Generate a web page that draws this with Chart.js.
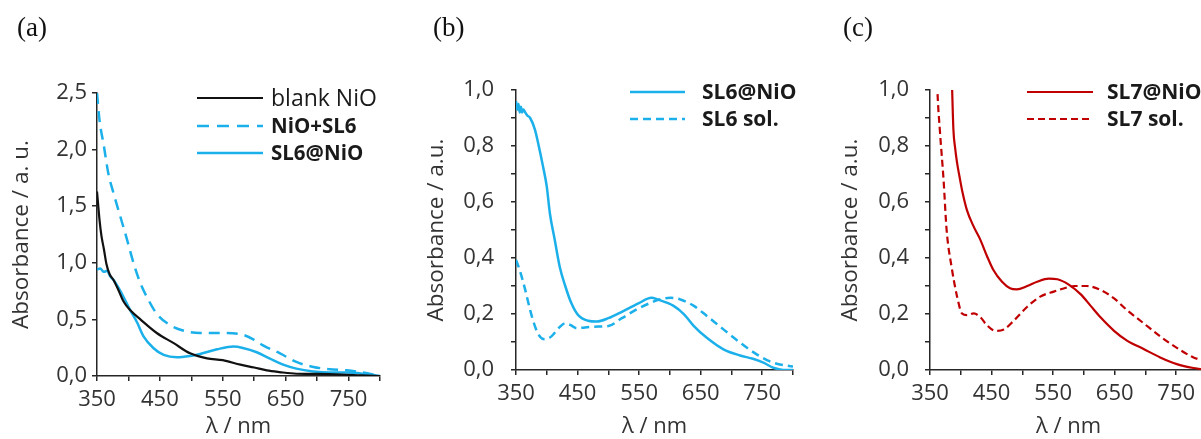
<!DOCTYPE html>
<html>
<head>
<meta charset="utf-8">
<script src="https://cdn.jsdelivr.net/npm/chart.js@4.4.1/dist/chart.umd.min.js"></script>
<style>
  html, body { margin: 0; padding: 0; background: #fff; overflow: hidden; width: 1201px; height: 439px; }
  .panel { position: absolute; top: 0; }
  .tag { position: absolute; z-index: 2; font-family: 'Liberation Serif', 'Times New Roman', serif; font-size: 27px; color: #111; }
</style>
</head>
<body>
<div class="tag" style="left:17px; top:12px">(a)</div>
<div class="tag" style="left:433px; top:12px">(b)</div>
<div class="tag" style="left:843px; top:12px">(c)</div>
<canvas id="chartA" class="panel" width="400" height="450" style="left:0px"></canvas>
<canvas id="chartB" class="panel" width="400" height="450" style="left:400px"></canvas>
<canvas id="chartC" class="panel" width="420" height="450" style="left:800px"></canvas>
<script>
// ---- spectra (wavelength in nm, absorbance in a.u.) ----

// (a) NiO films
const blankNiO_wl  = [350, 354, 357, 361, 365, 370, 376, 384, 392, 403, 419, 445, 472, 498, 525, 550, 578, 600, 620, 640, 667, 700, 740, 770, 800];
const blankNiO_abs = [1.63, 1.38, 1.24, 1.12, 0.99, 0.90, 0.85, 0.76, 0.66, 0.58, 0.50, 0.38, 0.29, 0.20, 0.156, 0.14, 0.10, 0.075, 0.05, 0.035, 0.02, 0.018, 0.013, 0.006, 0.0];

const nioSL6_wl  = [350, 354, 361, 368, 376, 387, 398, 408, 419, 432, 445, 466, 488, 514, 551, 578, 600, 614, 641, 667, 694, 720, 747, 773, 800];
const nioSL6_abs = [2.50, 2.26, 2.03, 1.79, 1.62, 1.41, 1.20, 1.00, 0.82, 0.67, 0.55, 0.45, 0.40, 0.38, 0.38, 0.37, 0.32, 0.27, 0.20, 0.124, 0.08, 0.06, 0.05, 0.03, 0.0];

const sl6NiOa_wl  = [350, 355, 361, 366, 371, 376, 382, 392, 403, 414, 424, 440, 456, 477, 498, 514, 541, 567, 582, 604, 625, 646, 667, 694, 720, 747, 773, 800];
const sl6NiOa_abs = [0.94, 0.95, 0.92, 0.93, 0.88, 0.85, 0.80, 0.70, 0.58, 0.47, 0.35, 0.245, 0.186, 0.165, 0.177, 0.195, 0.236, 0.26, 0.248, 0.21, 0.153, 0.10, 0.065, 0.04, 0.03, 0.03, 0.02, 0.0];

// (b) SL6 on NiO vs. solution
const sl6NiO_wl  = [350, 352, 354, 356, 358, 360, 362, 365, 368, 373, 381, 386, 394, 400, 405, 413, 421, 430, 440, 451, 467, 481, 500, 522, 549, 570, 580, 606, 623, 639, 660, 687, 714, 735, 752, 768, 784, 800];
const sl6NiO_abs = [0.96, 0.93, 0.95, 0.92, 0.94, 0.92, 0.93, 0.92, 0.91, 0.90, 0.857, 0.81, 0.726, 0.655, 0.56, 0.464, 0.369, 0.30, 0.238, 0.196, 0.176, 0.173, 0.185, 0.208, 0.238, 0.258, 0.252, 0.229, 0.199, 0.157, 0.115, 0.074, 0.052, 0.04, 0.026, 0.008, 0.0, 0.0];

const sl6Sol_wl  = [350, 356, 365, 373, 381, 389, 397, 408, 419, 430, 438, 449, 462, 484, 500, 522, 549, 573, 580, 601, 617, 639, 660, 687, 714, 741, 768, 800];
const sl6Sol_abs = [0.393, 0.357, 0.286, 0.214, 0.155, 0.119, 0.11, 0.121, 0.149, 0.167, 0.161, 0.149, 0.152, 0.155, 0.157, 0.185, 0.22, 0.244, 0.25, 0.258, 0.252, 0.229, 0.193, 0.145, 0.098, 0.056, 0.026, 0.012];

// (c) SL7 on NiO vs. solution
const sl7NiO_wl  = [383, 386, 388, 391, 394, 398, 402, 410, 421, 432, 442, 453, 467, 480, 491, 508, 524, 543, 557, 576, 595, 611, 627, 649, 670, 697, 724, 751, 778, 791, 800];
const sl7NiO_abs = [1.25, 1.0, 0.86, 0.79, 0.74, 0.69, 0.643, 0.571, 0.512, 0.464, 0.41, 0.357, 0.315, 0.292, 0.288, 0.30, 0.315, 0.326, 0.324, 0.304, 0.27, 0.229, 0.188, 0.14, 0.105, 0.075, 0.045, 0.021, 0.007, 0.003, 0.0];

const sl7Sol_wl  = [358, 362, 366, 372, 377, 385, 394, 402, 410, 421, 432, 442, 456, 470, 486, 508, 529, 551, 573, 584, 605, 627, 649, 670, 697, 724, 751, 778, 800];
const sl7Sol_abs = [1.3, 1.0, 0.857, 0.68, 0.50, 0.369, 0.262, 0.202, 0.196, 0.202, 0.188, 0.161, 0.14, 0.145, 0.176, 0.226, 0.262, 0.28, 0.295, 0.30, 0.30, 0.286, 0.256, 0.214, 0.167, 0.12, 0.079, 0.045, 0.03];

// ---- styling ----
const BLUE = '#1cb0ea';
const RED = '#c00000';
const AXIS = '#262626';
const TEXT = '#333333';
const SANS = "'Open Sans', Arial, sans-serif";

const pts = (wl, abs) => wl.map((x, i) => ({ x: x, y: abs[i] }));
const comma = v => v.toFixed(1).replace('.', ',');

function series(label, wl, abs, color, dash, width) {
  return {
    label: label,
    data: pts(wl, abs),
    borderColor: color,
    borderWidth: width || 2.5,
    borderDash: dash || [],
    pointRadius: 0,
    fill: false,
    cubicInterpolationMode: 'monotone'
  };
}

// inline legend: sample line + label, drawn inside the plot area
const inlineLegend = {
  id: 'inlineLegend',
  afterDatasetsDraw(chart, args, opts) {
    const ctx = chart.ctx;
    chart.data.datasets.forEach((ds, i) => {
      const y = opts.rows[i];
      ctx.save();
      ctx.strokeStyle = ds.borderColor;
      ctx.lineWidth = ds.borderWidth;
      ctx.setLineDash(opts.dash ? opts.dash[i] : ds.borderDash);
      ctx.beginPath();
      ctx.moveTo(opts.x0, y);
      ctx.lineTo(opts.x1, y);
      ctx.stroke();
      ctx.setLineDash([]);
      ctx.fillStyle = '#1a1a1a';
      ctx.font = opts.fonts[i];
      ctx.textBaseline = 'middle';
      ctx.fillText(ds.label, opts.tx, y + 1);
      ctx.restore();
    });
  }
};

function scales(cfg) {
  return {
    x: {
      type: 'linear', min: 350, max: 800,
      afterFit: s => { s.height = cfg.xHeight; },
      ticks: {
        stepSize: 50, autoSkip: false, maxRotation: 0, minRotation: 0,
        padding: 6, color: TEXT, font: { family: SANS, size: 22 },
        callback: v => ((v - 350) % 100 === 0 ? String(v) : '')
      },
      grid: { drawOnChartArea: false, drawTicks: true, tickLength: 5, color: AXIS, lineWidth: 1.5 },
      border: { display: true, color: AXIS, width: 1.5 },
      title: { display: true, text: 'λ / nm', color: TEXT, font: { family: SANS, size: 22 }, padding: { top: 0, bottom: 10 } }
    },
    y: {
      type: 'linear', min: 0, max: cfg.yMax,
      afterFit: s => { s.width = cfg.yWidth; },
      ticks: {
        stepSize: cfg.yStep, autoSkip: false, padding: cfg.yPad,
        color: TEXT, font: { family: SANS, size: 22 },
        callback: cfg.yLabel
      },
      grid: { drawOnChartArea: false, drawTicks: true, tickLength: 5, color: AXIS, lineWidth: 1.5 },
      border: { display: true, color: AXIS, width: 1.5 },
      title: { display: true, text: cfg.yTitle, color: TEXT, font: { family: SANS, size: 22.5 }, padding: { top: cfg.yTitlePad, bottom: 0 } }
    }
  };
}

function makeChart(id, datasets, layoutPad, scaleCfg, legendCfg) {
  return new Chart(document.getElementById(id), {
    type: 'line',
    data: { datasets: datasets },
    options: {
      responsive: false,
      animation: false,
      layout: { padding: layoutPad },
      scales: scales(scaleCfg),
      plugins: {
        legend: { display: false },
        tooltip: { enabled: false },
        inlineLegend: legendCfg
      }
    },
    plugins: [inlineLegend]
  });
}

// (a)
makeChart('chartA', [
  series('blank NiO', blankNiO_wl, blankNiO_abs, '#111111', [], 2.2),
  series('NiO+SL6', nioSL6_wl, nioSL6_abs, BLUE, [11, 7], 2.5),
  series('SL6@NiO', sl6NiOa_wl, sl6NiOa_abs, BLUE, [], 2.5)
], { top: 93, right: 20, left: 0, bottom: 0 }, {
  xHeight: 74, yWidth: 97, yMax: 2.5, yStep: 0.5, yPad: 5, yTitlePad: 8,
  yTitle: 'Absorbance / a. u.', yLabel: v => comma(v)
}, {
  x0: 197, x1: 263, tx: 271, rows: [98, 126, 153],
  dash: [[], [12, 8], []],
  fonts: ['23px ' + SANS, 'bold 20.5px ' + SANS, 'bold 20.5px ' + SANS]
});

// (b)
const tenths = v => (Math.round(v * 10) % 2 === 0 ? comma(v) : '');

makeChart('chartB', [
  series('SL6@NiO', sl6NiO_wl, sl6NiO_abs, BLUE, [], 2.5),
  series('SL6 sol.', sl6Sol_wl, sl6Sol_abs, BLUE, [8, 5], 2.5)
], { top: 90, right: 7, left: 0, bottom: 0 }, {
  xHeight: 80, yWidth: 116, yMax: 1, yStep: 0.1, yPad: 17, yTitlePad: 23,
  yTitle: 'Absorbance / a.u.', yLabel: tenths
}, {
  x0: 230, x1: 285, tx: 302, rows: [92, 119],
  fonts: ['bold 21px ' + SANS, 'bold 21px ' + SANS]
});

// (c)
makeChart('chartC', [
  series('SL7@NiO', sl7NiO_wl, sl7NiO_abs, RED, [], 2.2),
  series('SL7 sol.', sl7Sol_wl, sl7Sol_abs, RED, [7, 4], 2.2)
], { top: 90, right: 13, left: 0, bottom: 0 }, {
  xHeight: 80, yWidth: 130, yMax: 1, yStep: 0.1, yPad: 16, yTitlePad: 37,
  yTitle: 'Absorbance / a.u.', yLabel: tenths
}, {
  x0: 227, x1: 293, tx: 307, rows: [92, 119],
  fonts: ['bold 21px ' + SANS, 'bold 21px ' + SANS]
});
</script>
</body>
</html>
